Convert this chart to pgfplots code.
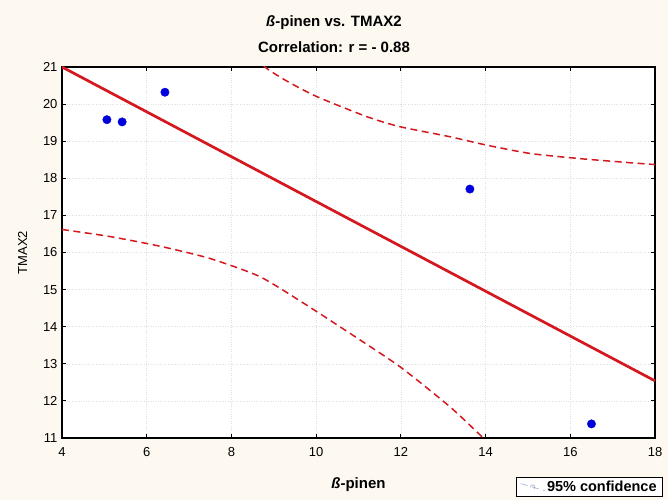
\documentclass[border=0pt]{standalone}
\usepackage{pgfplots}
\pgfplotsset{compat=1.18}
\usepackage{fontspec}
\setmainfont{Liberation Sans}

\definecolor{bgcream}{RGB}{253,249,240}
\definecolor{fitred}{RGB}{212,24,30}
\definecolor{ptblue}{RGB}{0,0,220}
\definecolor{legline}{RGB}{160,170,210}

\begin{document}
\begin{tikzpicture}
\fill[bgcream] (0,0) rectangle (668pt,500pt);
\begin{axis}[
  at={(62pt,62pt)}, anchor=south west,
  scale only axis, width=593pt, height=371pt,
  xmin=4, xmax=18, ymin=11, ymax=21,
  xtick={4,6,...,18}, ytick={11,12,...,21},
  tick align=inside, major tick length=4pt,
  tick style={black, line width=0.9pt},
  axis line style={black, line width=1.6pt},
  axis background/.style={fill=white},
  grid=major, grid style={dotted, gray!25, line width=0.5pt},
  /pgf/number format/assume math mode=true,
  ticklabel style={font=\fontsize{13}{15}\selectfont},
  xticklabel style={yshift=-6pt},
  yticklabel style={xshift=-1pt},
  xlabel={\textbf{\textit{ß}-pinen}},
  xlabel style={font=\fontsize{15}{18}\selectfont, yshift=-14pt},
  ylabel={TMAX2},
  ylabel style={font=\fontsize{13}{15}\selectfont, yshift=9pt},
  legend style={at={(1.0135,-0.159)}, anchor=south east,
    draw=black, line width=0.8pt, fill=white,
    font=\fontsize{14.5}{17}\selectfont\bfseries,
    inner xsep=4pt, inner ysep=1.5pt},
  legend cell align=left,
]
\addplot[fitred, line width=2.7pt, forget plot] coordinates {(4,21.0) (18,12.54)};
\addplot[fitred, line width=1.5pt, dash pattern=on 7pt off 4.5pt, smooth, tension=0.4,
  legend image code/.code={
    \draw[legline, line width=0.6pt] (0pt,3.5pt) -- (24pt,-3.5pt);
    \draw[legline, line width=0.6pt] (12pt,0pt) circle (2.2pt);}]
  coordinates {(8.4,21.5) (8.79,21.0) (9.31,20.62) (10.02,20.2) (11.2,19.66)
  (11.98,19.39) (13.16,19.12) (14.0,18.9) (15.05,18.67) (16.23,18.53)
  (17.41,18.42) (18,18.37)};
\addlegendentry{95\% confidence}
\addplot[fitred, line width=1.5pt, dash pattern=on 7pt off 4.5pt, smooth, tension=0.4, forget plot]
  coordinates {(4,16.62) (5.13,16.43) (6.31,16.17) (7.49,15.84) (8.67,15.35)
  (9.75,14.6) (10.8,13.82) (11.98,12.92) (13.16,11.84) (13.9,11.05) (14.0,10.95)};
\addplot[only marks, mark=*, mark size=4.2pt, color=ptblue, forget plot]
  coordinates {(5.06,19.58) (5.42,19.52) (6.43,20.32) (13.63,17.71) (16.5,11.38)};
\end{axis}
\node[font=\fontsize{15}{18}\selectfont\bfseries] at (334pt,477pt) {\textit{ß}-pinen vs. TMAX2};
\node[font=\fontsize{15}{18}\selectfont\bfseries] at (334pt,453pt) {Correlation: r = - 0.88};
\end{tikzpicture}
\end{document}
